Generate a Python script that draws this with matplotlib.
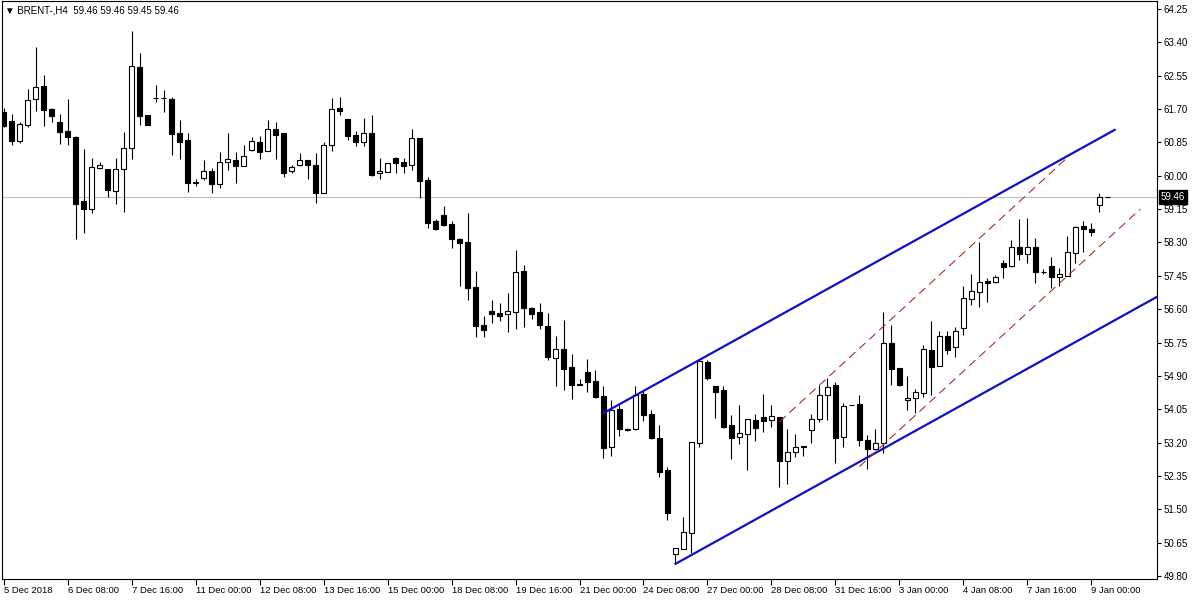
import matplotlib
matplotlib.use('Agg')
import matplotlib.pyplot as plt
import numpy as np

plt.rcParams['font.family'] = ['Liberation Sans', 'DejaVu Sans']

# BRENT H4 candles
opens = [61.63, 61.40, 60.89, 61.30, 61.95, 62.29, 61.70, 61.37, 61.14, 61.00,
         59.36, 59.16, 60.21, 60.17, 59.62, 60.16, 60.70, 62.77, 61.55, 61.99,
         61.99, 61.96, 61.09, 60.91, 59.83, 59.95, 60.12, 59.78, 60.36, 60.40,
         60.26, 60.66, 60.86, 60.62, 61.18, 61.09, 60.11, 60.27, 60.40, 60.27,
         59.57, 60.78, 61.72, 61.44, 61.03, 60.87, 61.09, 60.06, 60.10, 60.45,
         60.35, 60.27, 60.95, 59.88, 58.84, 58.99, 58.76, 58.40, 58.30, 57.16,
         56.20, 56.55, 56.50, 56.47, 56.52, 57.57, 56.62, 56.52, 56.16, 55.36,
         55.58, 55.12, 54.70, 54.99, 54.76, 54.39, 53.10, 54.06, 53.53, 53.54,
         54.44, 53.93, 53.32, 52.50, 50.35, 50.50, 50.90, 53.20, 55.25, 54.64,
         54.54, 53.65, 53.35, 53.43, 53.78, 53.85, 53.78, 53.85, 52.74, 52.95,
         53.10, 53.51, 53.79, 54.41, 54.67, 53.34, 54.16, 54.18, 53.27, 53.04,
         53.18, 55.73, 55.09, 54.28, 54.34, 54.46, 55.56, 55.14, 55.92, 55.64,
         56.11, 56.85, 57.03, 57.33, 57.29, 57.77, 57.71, 58.18, 58.01, 58.18,
         57.56, 57.70, 57.43, 57.45, 58.02, 58.71, 58.65, 59.25, 59.46]
highs = [61.72, 61.57, 61.37, 62.21, 63.29, 62.57, 61.73, 61.57, 61.96, 61.01,
         60.68, 60.46, 60.34, 60.17, 60.46, 61.12, 63.69, 63.13, 61.56, 62.31,
         62.19, 62.00, 61.42, 61.09, 59.93, 60.40, 60.19, 60.61, 61.10, 60.61,
         60.78, 60.98, 61.01, 61.42, 61.37, 61.09, 60.27, 60.58, 60.41, 60.58,
         60.86, 61.97, 62.00, 61.45, 61.13, 61.46, 61.55, 60.45, 60.33, 60.49,
         60.45, 61.19, 60.96, 59.97, 58.90, 59.23, 58.85, 58.42, 59.05, 57.57,
         56.43, 56.83, 56.76, 57.01, 58.11, 57.73, 56.65, 56.76, 56.50, 55.92,
         56.32, 55.45, 54.81, 55.33, 55.05, 54.64, 54.29, 54.16, 53.56, 54.64,
         54.52, 54.03, 53.65, 52.59, 50.51, 51.30, 53.21, 55.31, 55.30, 54.65,
         54.64, 53.90, 54.16, 53.81, 53.93, 54.44, 54.15, 53.86, 53.55, 53.41,
         53.11, 53.93, 54.67, 54.84, 54.75, 54.20, 54.16, 54.41, 53.39, 53.54,
         56.54, 56.20, 55.10, 54.90, 54.57, 55.69, 56.31, 56.05, 56.05, 56.15,
         57.19, 57.50, 58.32, 57.39, 57.47, 57.85, 58.36, 58.90, 58.92, 58.41,
         57.62, 57.92, 57.64, 58.47, 58.72, 58.85, 58.79, 59.55, 59.46]
lows = [61.24, 60.79, 60.84, 61.25, 61.66, 61.27, 61.38, 60.82, 60.78, 58.40,
        58.55, 59.06, 60.17, 59.47, 59.29, 59.08, 60.44, 61.30, 61.29, 61.89,
        61.63, 60.54, 60.44, 59.59, 59.75, 59.89, 59.57, 59.70, 60.15, 59.82,
        60.25, 60.63, 60.43, 60.62, 60.44, 59.98, 60.08, 60.26, 59.93, 59.31,
        59.55, 60.62, 61.56, 60.91, 60.76, 60.76, 60.00, 59.91, 60.10, 60.08,
        60.08, 60.15, 59.44, 58.68, 58.62, 58.72, 58.17, 57.20, 56.84, 55.90,
        55.90, 56.26, 56.31, 56.03, 56.10, 56.15, 56.35, 56.10, 55.31, 54.65,
        54.55, 54.30, 54.66, 54.50, 54.34, 52.80, 52.86, 53.37, 53.49, 53.52,
        53.76, 53.28, 52.33, 51.23, 50.12, 50.49, 50.38, 53.10, 54.80, 53.83,
        53.56, 52.79, 53.16, 52.50, 53.24, 53.48, 53.59, 52.07, 52.15, 52.84,
        52.86, 53.20, 53.73, 53.78, 52.67, 53.10, 54.16, 53.12, 52.52, 53.01,
        52.93, 54.67, 54.63, 54.03, 53.95, 54.37, 54.41, 55.14, 55.46, 55.39,
        55.94, 56.71, 56.65, 56.79, 57.26, 57.40, 57.68, 57.85, 57.78, 57.28,
        57.50, 57.13, 57.19, 57.45, 57.78, 58.07, 58.47, 59.07, 59.45]
closes = [61.27, 60.89, 61.31, 61.92, 62.25, 61.68, 61.53, 61.12, 61.00, 59.29,
          59.16, 60.22, 60.27, 59.65, 60.17, 60.71, 62.79, 61.53, 61.30, 61.98,
          61.98, 61.07, 60.87, 59.82, 59.82, 60.12, 59.78, 60.35, 60.42, 60.26,
          60.50, 60.89, 60.61, 61.18, 61.05, 60.08, 60.22, 60.40, 60.27, 59.57,
          60.78, 61.69, 61.66, 61.02, 60.87, 61.09, 60.02, 60.13, 60.32, 60.33,
          60.26, 60.95, 59.87, 58.80, 58.65, 58.75, 58.40, 58.29, 57.15, 56.18,
          56.08, 56.49, 56.43, 56.55, 57.54, 56.64, 56.49, 56.19, 55.39, 55.58,
          55.08, 54.68, 54.68, 54.74, 54.37, 53.07, 54.03, 53.54, 53.53, 54.41,
          53.90, 53.33, 52.46, 51.41, 50.51, 50.91, 53.21, 55.29, 54.85, 54.50,
          53.59, 53.33, 53.44, 53.80, 53.58, 53.76, 53.87, 52.74, 52.95, 53.09,
          53.10, 53.79, 54.41, 54.62, 53.31, 54.13, 54.16, 53.27, 53.03, 53.18,
          55.73, 55.08, 54.67, 54.34, 54.48, 55.58, 55.13, 55.92, 55.56, 56.04,
          56.88, 57.06, 57.29, 57.28, 57.41, 57.68, 58.18, 58.01, 58.18, 57.56,
          57.55, 57.43, 57.49, 58.05, 58.69, 58.65, 58.57, 59.45, 59.46]

date_labels = ["5 Dec 2018", "6 Dec 08:00", "7 Dec 16:00", "11 Dec 00:00",
               "12 Dec 08:00", "13 Dec 16:00", "15 Dec 00:00", "18 Dec 08:00",
               "19 Dec 16:00", "21 Dec 00:00", "24 Dec 08:00", "27 Dec 00:00",
               "28 Dec 08:00", "31 Dec 16:00", "3 Jan 00:00", "4 Jan 08:00",
               "7 Jan 16:00", "9 Jan 00:00"]
label_bars = [0, 8, 16, 24, 32, 40, 48, 56, 64, 72, 80, 88, 96, 104, 112, 120, 128, 136]
price_ticks = [64.25, 63.40, 62.55, 61.70, 60.85, 60.00, 59.15, 58.30, 57.45,
               56.60, 55.75, 54.90, 54.05, 53.20, 52.35, 51.50, 50.65, 49.80]
last_price = 59.46
header = "\u25bc BRENT-,H4  59.46 59.46 59.45 59.46"

# drawn objects: (bar index list, price list)
channel_upper = ([74.98, 138.9], [53.95, 61.17])
channel_lower = ([84.0, 146.0], [50.11, 57.12])
dash_upper = ([97.0, 132.7], [53.73, 60.41])
dash_lower = ([107.0, 142.1], [52.59, 59.15])

fig = plt.figure(figsize=(12, 6), dpi=100, facecolor='white')
ax = fig.add_axes([2 / 1200, 21 / 600, 1155 / 1200, 578 / 600])

o = np.array(opens)
c = np.array(closes)
x = np.arange(len(o))
bottom = np.minimum(o, c)
height = np.maximum(np.abs(c - o), 0.004)
face = np.where(c < o, 'black', 'white')

ax.axhline(last_price, color='#c0c0c0', lw=0.9, zorder=1)
ax.vlines(x, lows, highs, color='black', lw=0.8, zorder=2)
ax.bar(x, height, bottom=bottom, width=0.62, color=face, edgecolor='black',
       linewidth=0.8, zorder=3)

ax.plot(*channel_upper, color='#1010c0', lw=1.6, zorder=4)
ax.plot(*channel_lower, color='#1010c0', lw=1.6, zorder=4)
ax.plot(*dash_upper, color='#a52020', lw=0.75, ls=(0, (8, 5)), zorder=4)
ax.plot(*dash_lower, color='#a52020', lw=0.75, ls=(0, (8, 5)), zorder=4)

ax.set_xlim(-0.19, 144.19)
ax.set_ylim(49.724, 64.454)

ax.yaxis.tick_right()
ax.set_yticks(price_ticks)
ax.set_yticklabels([f"{p:.2f}" for p in price_ticks])
ax.tick_params(axis='y', length=3, width=0.8, labelsize=7, pad=2)
ax.set_xticks(label_bars)
ax.set_xticklabels(date_labels)
for lbl in ax.get_xticklabels():
    lbl.set_ha('left')
ax.tick_params(axis='x', length=4, width=0.8, labelsize=6.8, pad=1)

for s in ax.spines.values():
    s.set_linewidth(0.8)
    s.set_color('black')

ax.text(0.003, 0.992, header, transform=ax.transAxes, va='top', ha='left',
        fontsize=7, color='black')

ax.annotate(f"{last_price:.2f}", xy=(1, last_price), xycoords=('axes fraction', 'data'),
            xytext=(2.5, 0), textcoords='offset points', va='center', ha='left',
            color='white', fontsize=7, annotation_clip=False,
            bbox=dict(boxstyle='square,pad=0.2', fc='black', ec='black'))

fig.savefig('out.png', dpi=100)
